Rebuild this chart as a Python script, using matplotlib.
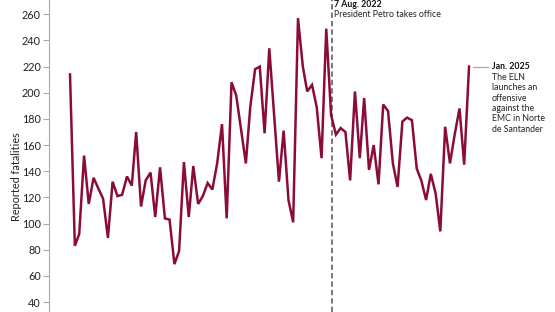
import numpy as np
import pandas as pd
import matplotlib
matplotlib.use("Agg")
import matplotlib.pyplot as plt
import matplotlib.dates as mdates

plt.rcParams['font.family'] = ['Lato', 'DejaVu Sans']

# monthly reported fatalities, Jan 2018 - Jan 2025
months = pd.date_range("2018-01-01", "2025-01-01", freq="MS")
fatalities = [
    214, 83, 92, 152, 115, 135, 127, 119, 89, 132, 121, 122,    # 2018
    136, 129, 170, 113, 133, 139, 105, 143, 104, 103, 69, 79,   # 2019
    147, 105, 144, 115, 121, 131, 126, 146, 176, 104, 208, 198, # 2020
    172, 146, 189, 218, 220, 169, 234, 183, 132, 171, 118, 101, # 2021
    257, 220, 201, 206, 189, 150, 249, 183, 168, 173, 170, 133, # 2022
    201, 150, 196, 141, 160, 130, 191, 186, 146, 128, 178, 181, # 2023
    179, 142, 133, 118, 138, 123, 94, 174, 146, 168, 188, 145,  # 2024
    220,                                                        # 2025
]

petro_date = pd.Timestamp("2022-08-07")
petro_label = "7 Aug. 2022"
petro_text = "President Petro takes office"
eln_label = "Jan. 2025"
eln_text = "The ELN\nlaunches an\noffensive\nagainst the\nEMC in Norte\nde Santander"

red = "#8b0c3b"

fig = plt.figure(figsize=(5.55, 3.12), dpi=100)
ax = fig.add_axes([49.3 / 555, 0, 1 - 49.3 / 555, 1])

ax.plot(months, fatalities, color=red, lw=1.8, solid_joinstyle="miter", zorder=3)

ax.axvline(petro_date, color="#555555", lw=1.1, ls=(0, (3.5, 2)), zorder=2)

start = mdates.date2num(months[0])
end = mdates.date2num(months[-1])
ax.set_xlim(start - 4.36 * 30.44, end + 18.1 * 30.44)
ax.set_ylim(32.4, 270.9)

ax.set_yticks(np.arange(40, 261, 20))
ax.tick_params(axis="y", length=4, width=0.8, color="#aaaaaa",
               labelsize=7.8, labelcolor="#222222", pad=2)
ax.xaxis.set_visible(False)
for s in ["top", "right", "bottom"]:
    ax.spines[s].set_visible(False)
ax.spines["left"].set_color("#aaaaaa")
ax.spines["left"].set_linewidth(0.8)

ax.set_ylabel("Reported fatalities", fontsize=7.8, color="#222222")
ax.yaxis.set_label_coords(-0.053, 0.433)

# Petro annotation
trans = ax.get_xaxis_transform()
ax.text(petro_date + pd.Timedelta(days=14), 0.985, petro_label, transform=trans,
        fontsize=6.3, fontweight="bold", color="#111111", va="center", ha="left")
ax.text(petro_date + pd.Timedelta(days=14), 0.953, petro_text, transform=trans,
        fontsize=6.3, color="#222222", va="center", ha="left")

# ELN annotation
ax.plot([end + 0.8 * 30.44, end + 4.06 * 30.44], [fatalities[-1]] * 2,
        color="#aaaaaa", lw=0.9)
ax.text(end + 4.8 * 30.44, fatalities[-1], eln_label, fontsize=6.3,
        fontweight="bold", color="#111111", va="center", ha="left")
ax.annotate(eln_text, xy=(end + 4.8 * 30.44, fatalities[-1]),
            xytext=(0, -4.5), textcoords="offset points", fontsize=6.3,
            color="#222222", va="top", ha="left", linespacing=1.2)

fig.savefig("out.png", dpi=100)
